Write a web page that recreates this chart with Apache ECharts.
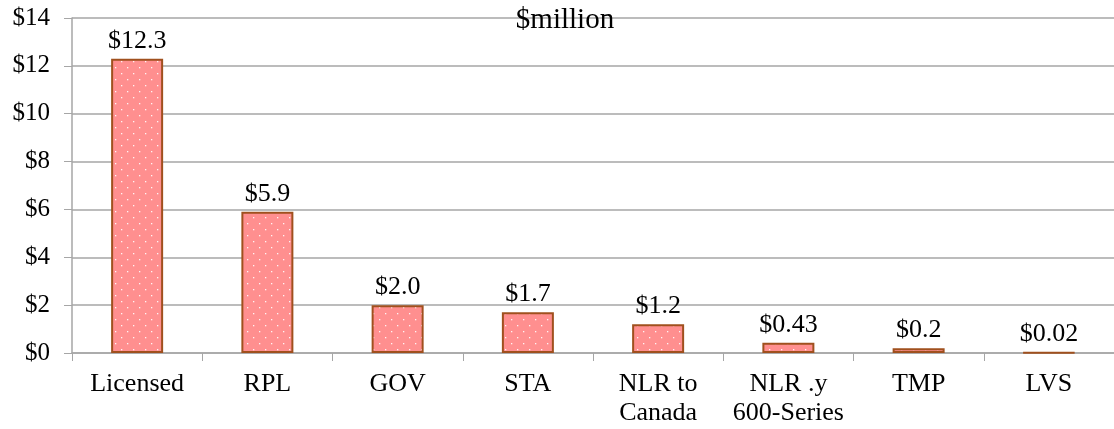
<!DOCTYPE html>
<html>
<head>
<meta charset="utf-8">
<script src="https://cdn.jsdelivr.net/npm/echarts@6/dist/echarts.min.js"></script>
<style>
  html, body { margin: 0; padding: 0; background: #fff; }
  #chart { width: 1114px; height: 429px; }
</style>
</head>
<body>
<div id="chart"></div>
<script>
// data ($ million)
const categories = ['Licensed', 'RPL', 'GOV', 'STA', 'NLR to\nCanada', 'NLR .y\n600-Series', 'TMP', 'LVS']
const values = [12.3, 5.9, 2.0, 1.7, 1.2, 0.43, 0.2, 0.02]
const valueLabels = ['$12.3', '$5.9', '$2.0', '$1.7', '$1.2', '$0.43', '$0.2', '$0.02']
const yTicks = [0, 2, 4, 6, 8, 10, 12, 14]

// dotted pink fill
function dotPattern() {
  const c = document.createElement('canvas')
  c.width = 12
  c.height = 12
  const ctx = c.getContext('2d')
  ctx.fillStyle = '#ff8f8f'
  ctx.fillRect(0, 0, 12, 12)
  ctx.fillStyle = 'rgba(255,255,255,0.9)'
  ctx.fillRect(1, 1, 1.3, 1.3)
  ctx.fillRect(7, 7, 1.3, 1.3)
  return c
}

const font = '"Liberation Serif", "Times New Roman", serif'
const chart = echarts.init(document.getElementById('chart'))

chart.setOption({
  animation: false,
  title: {
    text: '$million',
    left: 560,
    top: 1,
    textAlign: 'center',
    textStyle: { fontFamily: font, fontSize: 29, fontWeight: 'normal', color: '#000' }
  },
  grid: { left: 72, right: 0, top: 18, bottom: 76 },
  xAxis: {
    type: 'category',
    data: categories,
    axisLine: { lineStyle: { color: '#a6a6a6', width: 1.5 } },
    axisTick: { show: true, length: 8, lineStyle: { color: '#a6a6a6' } },
    axisLabel: {
      interval: 0,
      fontFamily: font,
      fontSize: 26,
      color: '#000',
      margin: 17,
      lineHeight: 29
    }
  },
  yAxis: {
    type: 'value',
    min: yTicks[0],
    max: yTicks[yTicks.length - 1],
    interval: 2,
    axisLine: { show: true, lineStyle: { color: '#a6a6a6', width: 1.5 } },
    axisTick: { show: true, length: 8, lineStyle: { color: '#a6a6a6' } },
    splitLine: { lineStyle: { color: '#a6a6a6', width: 1.5 } },
    axisLabel: {
      fontFamily: font,
      fontSize: 25,
      color: '#000',
      margin: 22,
      formatter: v => '$' + v
    }
  },
  series: [{
    type: 'bar',
    data: values,
    barWidth: 52,
    itemStyle: {
      color: { image: dotPattern(), repeat: 'repeat' },
      borderColor: '#a0501e',
      borderWidth: 2
    },
    label: {
      show: true,
      position: 'top',
      distance: 5,
      fontFamily: font,
      fontSize: 26,
      color: '#000',
      formatter: p => valueLabels[p.dataIndex]
    }
  }]
})
</script>
</body>
</html>
